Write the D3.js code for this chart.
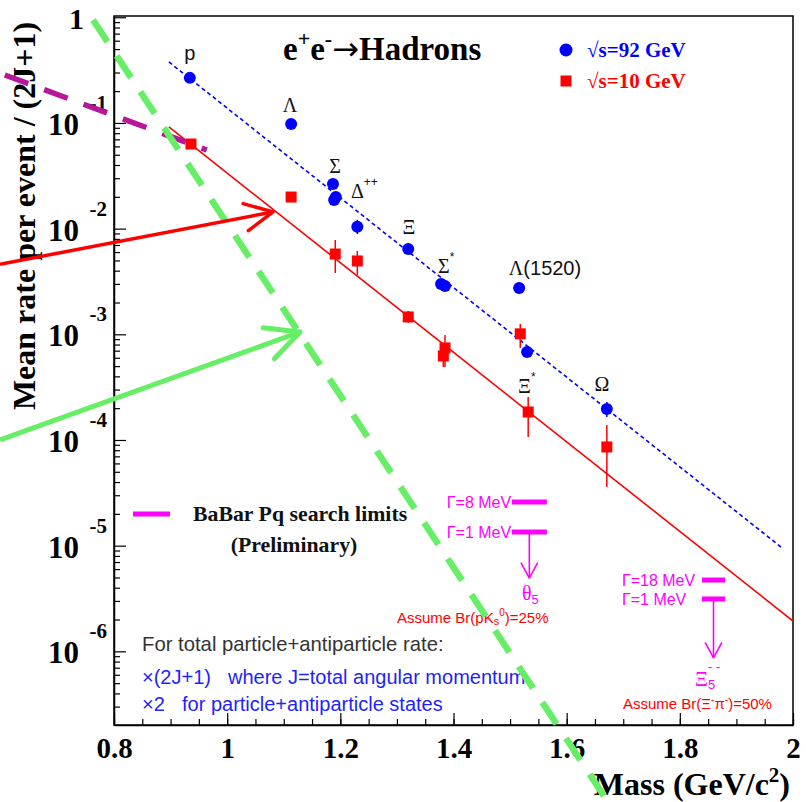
<!DOCTYPE html>
<html><head><meta charset="utf-8">
<script src="https://cdn.jsdelivr.net/npm/d3@7"></script>
<style>body{margin:0;background:#fff}svg{display:block}</style>
</head><body>
<script>
// ---------- data ----------
const xTickLabels = [0.8, 1, 1.2, 1.4, 1.6, 1.8, 2];
const yDecades = [0, -1, -2, -3, -4, -5, -6];

// sqrt(s)=92 GeV (blue circles)
const z92Mass = [0.934, 1.113, 1.187, 1.192, 1.189, 1.230, 1.320, 1.378, 1.385, 1.516, 1.530, 1.671];
const z92Rate = [0.267, 0.0978, 0.0265, 0.0199, 0.0187, 0.0104, 0.0064, 0.0030, 0.00286, 0.00274, 0.00068, 0.000196];
const z92Lo   = [null, null, null, null, null, 0.0089, null, null, null, 0.0024, 0.00062, 0.000165];
const z92Hi   = [null, null, null, null, null, 0.0121, null, null, null, 0.0031, 0.00075, 0.000229];

// sqrt(s)=10 GeV (red squares)
const r10Mass = [0.936, 1.113, 1.191, 1.230, 1.320, 1.385, 1.382, 1.518, 1.532, 1.671];
const r10Rate = [0.0632, 0.0199, 0.00575, 0.00494, 0.00146, 0.000743, 0.000624, 0.00101, 0.000184, 0.0000859];
const r10Lo   = [null, null, 0.0038, 0.00364, 0.00128, 0.000491, 0.000491, 0.000743, 0.0001067, 0.0000359];
const r10Hi   = [null, null, 0.00782, 0.00614, 0.00166, 0.000986, 0.00079, 0.001253, 0.000255, 0.0001387];

// exponential fits
const fit92Mass = [0.897, 1.981];
const fit92Rate = [0.3776, 9.5e-6];
const fit10Mass = [0.897, 2.0];
const fit10Rate = [0.0916, 1.936e-6];

// dashed annotation lines
const greenMass = [0.763, 1.673];
const greenRate = [0.943, 3.75e-8];
const babarMass = [0.607, 0.964];
const babarRate = [0.2844, 0.0555];

// arrows [tail, tip]
const redArrowMass = [0.5985, 1.081];
const redArrowRate = [0.0046, 0.01439];
const greenArrowMass = [0.5985, 1.1287];
const greenArrowRate = [1.0e-4, 0.001052];

// particle labels
const particleNames = ["p", "Λ", "Σ", "Δ", "Ξ", "Σ", "Λ", "Ξ", "Ω"];
const particleSup   = ["", "", "", "++", "", "*", "", "*", ""];
const particleTail  = ["", "", "", "", "", "", "(1520)", "", ""];
const labelMass = [0.934, 1.111, 1.1906, 1.2312, 1.3214, 1.385, 1.5617, 1.5264, 1.6625];
const labelRate = [0.394, 0.1268, 0.03365, 0.0195, 0.00889, 0.0038, 0.00364, 0.000279, 0.000291];

// BaBar pentaquark limits
const limitMassLo = [1.503, 1.839];
const limitMassHi = [1.565, 1.880];
const limitWide   = [2.59e-5, 4.73e-6];
const limitNarrow = [1.346e-5, 3.13e-6];
const limitArrowEnd = [4.94e-6, 8.69e-7];
const limitWideText = ["Γ=8 MeV", "Γ=18 MeV"];
const limitNarrowText = ["Γ=1 MeV", "Γ=1 MeV"];

// ---------- layout ----------
const W = 806, H = 802;
const L = 114, R = 793, T = 16, B = 725;
const serif = "'Liberation Serif','Times New Roman',serif";
const sans = "'Liberation Sans',Arial,sans-serif";
const BLUE = "#0000ff", RED = "#ff0000", MAG = "#ff00ff", DMAG = "#b8169a", GREEN = "#66ee66";

const svg = d3.select("body").append("svg").attr("width", W).attr("height", H);
const x = d3.scaleLinear().domain([0.8, 2.0]).range([L, R]);
const y = d3.scaleLog().domain([Math.pow(10, -6.697), Math.pow(10, 0.012)]).range([B, T]);

svg.append("clipPath").attr("id", "clip").append("rect")
  .attr("x", L).attr("y", T).attr("width", R - L).attr("height", B - T);

// frame
svg.append("rect").attr("x", L).attr("y", T).attr("width", R - L).attr("height", B - T)
  .attr("fill", "none").attr("stroke", "#000").attr("stroke-width", 1.5);

// x axis
const xMinor = d3.range(0, 25).map(i => 0.8 + i * 0.05).filter(v => v < 2.0 + 1e-9);
svg.append("g").attr("transform", `translate(0,${B})`)
  .call(d3.axisBottom(x).tickValues(xMinor).tickSize(-6).tickSizeOuter(0).tickFormat(""))
  .call(g => g.select(".domain").remove());
const xAx = svg.append("g").attr("transform", `translate(0,${B})`)
  .call(d3.axisBottom(x).tickValues(xTickLabels).tickSize(-12).tickSizeOuter(0).tickPadding(12)
    .tickFormat(d => String(d)));
xAx.select(".domain").attr("stroke-width", 1.5);
xAx.selectAll("text").attr("font-family", serif).attr("font-weight", "bold")
  .attr("font-size", 29).attr("fill", "#000");
svg.selectAll(".tick line").attr("stroke", "#000").attr("stroke-width", 1.2);

// y axis
const yMajor = yDecades.map(e => Math.pow(10, e));
const yMinor = [];
yDecades.forEach(e => { for (let k = 2; k <= 9; k++) yMinor.push(k * Math.pow(10, e - 1)); });
const yMinorIn = yMinor.filter(v => v > y.domain()[0] && v < y.domain()[1]);
svg.append("g").attr("transform", `translate(${L},0)`)
  .call(d3.axisLeft(y).tickValues(yMinorIn).tickSize(-6).tickSizeOuter(0).tickFormat(""))
  .call(g => g.select(".domain").remove());
svg.append("g").attr("transform", `translate(${L},0)`)
  .call(d3.axisLeft(y).tickValues(yMajor).tickSize(-12).tickSizeOuter(0).tickFormat(""))
  .call(g => g.select(".domain").attr("stroke-width", 1.5));
svg.selectAll(".tick line").attr("stroke", "#000").attr("stroke-width", 1.2);

const yLab = svg.append("g").attr("font-family", serif).attr("font-weight", "bold").attr("fill", "#000");
yDecades.forEach(e => {
  const yy = y(Math.pow(10, e));
  if (e === 0) {
    yLab.append("text").attr("x", 84).attr("y", yy + 12).attr("text-anchor", "end")
      .attr("font-size", 30).text("1");
  } else {
    yLab.append("text").attr("x", 79).attr("y", yy + 12).attr("text-anchor", "end")
      .attr("font-size", 31).text("10");
    yLab.append("text").attr("x", 107).attr("y", yy - 13).attr("text-anchor", "end")
      .attr("font-size", 21).text(String(e));
  }
});

// axis titles
svg.append("text").attr("transform", "translate(35,216) rotate(-90)")
  .attr("text-anchor", "middle").attr("font-family", serif).attr("font-weight", "bold")
  .attr("font-size", 32).attr("fill", "#000").text("Mean rate per event / (2J+1)");
const xt = svg.append("text").attr("x", 790).attr("y", 795).attr("text-anchor", "end")
  .attr("font-family", serif).attr("font-weight", "bold").attr("font-size", 32).attr("fill", "#000");
xt.append("tspan").text("Mass (GeV/c");
xt.append("tspan").attr("font-size", 21).attr("dy", -13).text("2");
xt.append("tspan").attr("dy", 13).text(")");

// ---------- plot content ----------
const plot = svg.append("g").attr("clip-path", "url(#clip)");
const line = d3.line().x(d => x(d[0])).y(d => y(d[1]));

plot.append("path").datum(d3.zip(fit92Mass, fit92Rate)).attr("d", line)
  .attr("fill", "none").attr("stroke", BLUE).attr("stroke-width", 1.6).attr("stroke-dasharray", "4,3");
plot.append("path").datum(d3.zip(fit10Mass, fit10Rate)).attr("d", line)
  .attr("fill", "none").attr("stroke", RED).attr("stroke-width", 1.6);

// error bars
z92Mass.forEach((m, i) => {
  if (z92Lo[i] == null) return;
  plot.append("line").attr("x1", x(m)).attr("x2", x(m)).attr("y1", y(z92Lo[i])).attr("y2", y(z92Hi[i]))
    .attr("stroke", BLUE).attr("stroke-width", 1.5);
});
r10Mass.forEach((m, i) => {
  if (r10Lo[i] == null) return;
  plot.append("line").attr("x1", x(m)).attr("x2", x(m)).attr("y1", y(r10Lo[i])).attr("y2", y(r10Hi[i]))
    .attr("stroke", RED).attr("stroke-width", 1.5);
});
// markers
plot.selectAll("circle.z92").data(d3.zip(z92Mass, z92Rate)).join("circle")
  .attr("cx", d => x(d[0])).attr("cy", d => y(d[1])).attr("r", 6).attr("fill", BLUE);
plot.selectAll("rect.r10").data(d3.zip(r10Mass, r10Rate)).join("rect")
  .attr("x", d => x(d[0]) - 5.5).attr("y", d => y(d[1]) - 5.5).attr("width", 11).attr("height", 11)
  .attr("fill", RED);

// particle labels
particleNames.forEach((n, i) => {
  const t = svg.append("text").attr("x", x(labelMass[i])).attr("y", y(labelRate[i]))
    .attr("text-anchor", "middle").attr("fill", "#111").attr("font-size", 20);
  if (n === "p") { t.attr("font-family", sans).text(n); return; }
  t.append("tspan").attr("font-family", serif).text(n);
  if (particleSup[i]) t.append("tspan").attr("font-family", sans).attr("font-size", 12).attr("dy", -12).text(particleSup[i]);
  if (particleTail[i]) t.append("tspan").attr("font-family", sans).text(particleTail[i]);
  if (particleSup[i]) t.attr("text-anchor", "start").attr("x", x(labelMass[i]) - 7);
  if (particleTail[i]) t.attr("text-anchor", "middle");
});

// title
const ti = svg.append("text").attr("x", 283).attr("y", 60).attr("font-family", serif)
  .attr("font-weight", "bold").attr("font-size", 33).attr("fill", "#000");
ti.append("tspan").text("e");
ti.append("tspan").attr("font-size", 22).attr("dy", -14).text("+");
ti.append("tspan").attr("dy", 14).text("e");
ti.append("tspan").attr("font-size", 22).attr("dy", -14).text("-");
ti.append("tspan").attr("dy", 14).attr("font-family", "'DejaVu Sans',sans-serif")
  .attr("font-weight", "normal").attr("font-size", 32).text("→");
ti.append("tspan").text("Hadrons");

// legend
svg.append("circle").attr("cx", 566).attr("cy", 50).attr("r", 6.5).attr("fill", BLUE);
svg.append("rect").attr("x", 560.5).attr("y", 75.5).attr("width", 11).attr("height", 11).attr("fill", RED);
svg.append("text").attr("x", 587).attr("y", 57).attr("font-family", serif).attr("font-weight", "bold")
  .attr("font-size", 21).attr("fill", BLUE).text("√s=92 GeV");
svg.append("text").attr("x", 587).attr("y", 88).attr("font-family", serif).attr("font-weight", "bold")
  .attr("font-size", 21).attr("fill", RED).text("√s=10 GeV");

// BaBar legend
svg.append("line").attr("x1", 133).attr("x2", 170).attr("y1", 514).attr("y2", 514)
  .attr("stroke", MAG).attr("stroke-width", 5);
svg.append("text").attr("x", 193).attr("y", 521).attr("font-family", serif).attr("font-weight", "bold")
  .attr("font-size", 21.8).attr("fill", "#111").text("BaBar Pq search limits");
svg.append("text").attr("x", 294).attr("y", 552).attr("text-anchor", "middle").attr("font-family", serif)
  .attr("font-weight", "bold").attr("font-size", 21.8).attr("fill", "#111").text("(Preliminary)");

// limits
function arrowHead(g, x0, y0, x1, y1, len, ang, color, w) {
  const th = Math.atan2(y0 - y1, x0 - x1);
  const p1 = [x1 + len * Math.cos(th + ang), y1 + len * Math.sin(th + ang)];
  const p2 = [x1 + len * Math.cos(th - ang), y1 + len * Math.sin(th - ang)];
  g.append("path").attr("d", `M${p1[0]},${p1[1]}L${x1},${y1}L${p2[0]},${p2[1]}`)
    .attr("fill", "none").attr("stroke", color).attr("stroke-width", w)
    .attr("stroke-linecap", "round").attr("stroke-linejoin", "round");
}
limitMassLo.forEach((m, i) => {
  const x0 = x(m), x1 = x(limitMassHi[i]), xc = (x0 + x1) / 2;
  [limitWide[i], limitNarrow[i]].forEach(v => {
    svg.append("line").attr("x1", x0).attr("x2", x1).attr("y1", y(v)).attr("y2", y(v))
      .attr("stroke", MAG).attr("stroke-width", 5);
  });
  svg.append("text").attr("x", x0 - 65 - (i ? 15 : 0)).attr("y", y(limitWide[i]) + 6)
    .attr("font-family", sans).attr("font-size", 16).attr("fill", MAG).text(limitWideText[i]);
  svg.append("text").attr("x", x0 - 65 - (i ? 15 : 0)).attr("y", y(limitNarrow[i]) + 6)
    .attr("font-family", sans).attr("font-size", 16).attr("fill", MAG).text(limitNarrowText[i]);
  const ya = y(limitNarrow[i]) + 2, yb = y(limitArrowEnd[i]);
  svg.append("line").attr("x1", xc).attr("x2", xc).attr("y1", ya).attr("y2", yb)
    .attr("stroke", MAG).attr("stroke-width", 1.6);
  arrowHead(svg, xc, ya, xc, yb, 17, 0.5, MAG, 1.6);
});
// theta5 label
const th5 = svg.append("text").attr("x", 522).attr("y", 600).attr("font-family", serif)
  .attr("font-size", 20).attr("fill", MAG);
th5.append("tspan").text("θ");
th5.append("tspan").attr("font-family", sans).attr("font-size", 13).attr("dy", 4).text("5");
const a1 = svg.append("text").attr("x", 397).attr("y", 623).attr("font-family", sans)
  .attr("font-size", 15).attr("fill", RED);
a1.append("tspan").text("Assume Br(pK");
a1.append("tspan").attr("font-size", 11).attr("dy", 2).text("s");
a1.append("tspan").attr("font-size", 10).attr("dy", -9).text("0");
a1.append("tspan").attr("dy", 7).text(")=25%");
// Xi5 label
const xi5 = svg.append("text").attr("x", 695).attr("y", 686).attr("font-family", serif)
  .attr("font-size", 20).attr("fill", MAG);
xi5.append("tspan").text("Ξ");
xi5.append("tspan").attr("font-family", sans).attr("font-size", 13).attr("dy", 3).text("5");
xi5.append("tspan").attr("font-family", sans).attr("font-size", 13).attr("dx", -7).attr("dy", -18).text("- -");
const a2 = svg.append("text").attr("x", 623).attr("y", 709).attr("font-family", sans)
  .attr("font-size", 15).attr("fill", RED);
a2.append("tspan").text("Assume Br(Ξ");
a2.append("tspan").attr("font-size", 10).attr("dy", -6).text("-");
a2.append("tspan").attr("dy", 6).text("π");
a2.append("tspan").attr("font-size", 10).attr("dy", -6).text("-");
a2.append("tspan").attr("dy", 6).text(")=50%");

// footnote
svg.append("text").attr("x", 142).attr("y", 651).attr("font-family", sans).attr("font-size", 20.3)
  .attr("fill", "#333").text("For total particle+antiparticle rate:");
svg.append("text").attr("x", 142).attr("y", 684).attr("font-family", sans).attr("font-size", 20)
  .attr("fill", "#1f1fff").text("×(2J+1)");
svg.append("text").attr("x", 228).attr("y", 684).attr("font-family", sans).attr("font-size", 20)
  .attr("fill", "#1f1fff").text("where J=total angular momentum");
svg.append("text").attr("x", 142).attr("y", 711).attr("font-family", sans).attr("font-size", 20)
  .attr("fill", "#1f1fff").text("×2");
svg.append("text").attr("x", 182).attr("y", 711).attr("font-family", sans).attr("font-size", 20)
  .attr("fill", "#1f1fff").text("for particle+antiparticle states");

// annotation lines (not clipped)
svg.append("path").datum(d3.zip(babarMass, babarRate)).attr("d", line)
  .attr("fill", "none").attr("stroke", DMAG).attr("stroke-width", 5.5).attr("stroke-dasharray", "25,17");
svg.append("path").datum(d3.zip(greenMass, greenRate)).attr("d", line)
  .attr("fill", "none").attr("stroke", GREEN).attr("stroke-width", 6.5).attr("stroke-dasharray", "26,17");

// arrows
function drawArrow(ms, rs, color, w, len) {
  const x0 = x(ms[0]), y0 = y(rs[0]), x1 = x(ms[1]), y1 = y(rs[1]);
  svg.append("line").attr("x1", x0).attr("y1", y0).attr("x2", x1).attr("y2", y1)
    .attr("stroke", color).attr("stroke-width", w);
  arrowHead(svg, x0, y0, x1, y1, len, 0.46, color, w);
}
drawArrow(redArrowMass, redArrowRate, RED, 3.5, 31);
drawArrow(greenArrowMass, greenArrowRate, GREEN, 5, 37);
</script>
</body></html>
